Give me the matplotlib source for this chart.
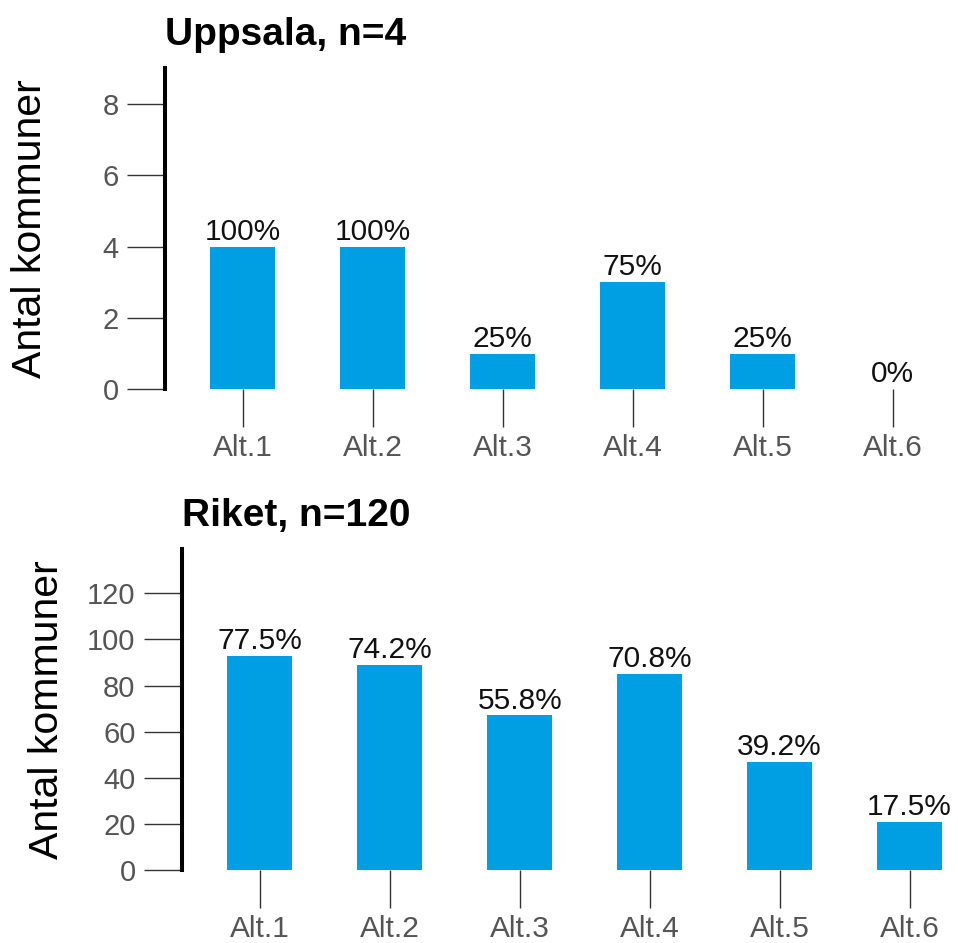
import matplotlib
matplotlib.use("Agg")
import matplotlib.pyplot as plt

plt.rcParams['font.family'] = ['Liberation Sans', 'DejaVu Sans']

categories = ["Alt.1", "Alt.2", "Alt.3", "Alt.4", "Alt.5", "Alt.6"]

uppsala_title = "Uppsala, n=4"
uppsala_counts = [4, 4, 1, 3, 1, 0]
uppsala_pct = ["100%", "100%", "25%", "75%", "25%", "0%"]
uppsala_yticks = [0, 2, 4, 6, 8]

riket_title = "Riket, n=120"
riket_counts = [93, 89, 67, 85, 47, 21]
riket_pct = ["77.5%", "74.2%", "55.8%", "70.8%", "39.2%", "17.5%"]
riket_yticks = [0, 20, 40, 60, 80, 100, 120]

ylabel = "Antal kommuner"

BAR = "#009fe3"
TICKGRAY = "#555555"
TICKLINE = "#333333"

W, H = 958, 943
fig = plt.figure(figsize=(W / 100, H / 100), dpi=100)

def px_axes(left, top, right, bottom):
    return fig.add_axes([left / W, 1 - bottom / H, (right - left) / W, (bottom - top) / H])

panels = [
    (uppsala_title, uppsala_counts, uppsala_pct, uppsala_yticks, 9.0, (165, 68, 165 + 773, 389.3)),
    (riket_title, riket_counts, riket_pct, riket_yticks, 139.2, (182, 549, 182 + 773, 870)),
]

for title, counts, pct, yticks, ytop, box in panels:
    ax = px_axes(*box)
    x = list(range(len(categories)))
    ax.bar(x, counts, width=0.5, color=BAR, linewidth=0)
    ax.set_xlim(-0.6, 5.35)
    ax.set_ylim(0, ytop)
    for spine in ("top", "right", "bottom"):
        ax.spines[spine].set_visible(False)
    ax.spines["left"].set_linewidth(2.9)
    ax.spines["left"].set_color("black")
    ax.spines["left"].set_bounds(0, ytop)
    ax.set_yticks(yticks)
    ax.set_xticks(x)
    ax.set_xticklabels(categories)
    ax.tick_params(axis="y", length=27.4, width=1.0, color=TICKLINE, labelcolor=TICKGRAY,
                   labelsize=21, pad=6, direction="out")
    ax.tick_params(axis="x", length=27.4, width=1.0, color=TICKLINE, labelcolor=TICKGRAY,
                   labelsize=21.5, pad=5, direction="out")
    for xi, c, lab in zip(x, counts, pct):
        ax.annotate(lab, (xi, c), xytext=(0, 5), textcoords="offset points",
                    ha="center", va="baseline", fontsize=21.5, color="#111111")
    ax.set_title(title, loc="left", fontsize=28, fontweight="bold", pad=16.5, color="black")
    cy = (box[1] + box[3]) / 2
    fig.text((box[0] - 135) / W, 1 - cy / H, ylabel, rotation=90, ha="center", va="center",
             fontsize=29.5, color="black")

fig.savefig("out.png", dpi=100)
